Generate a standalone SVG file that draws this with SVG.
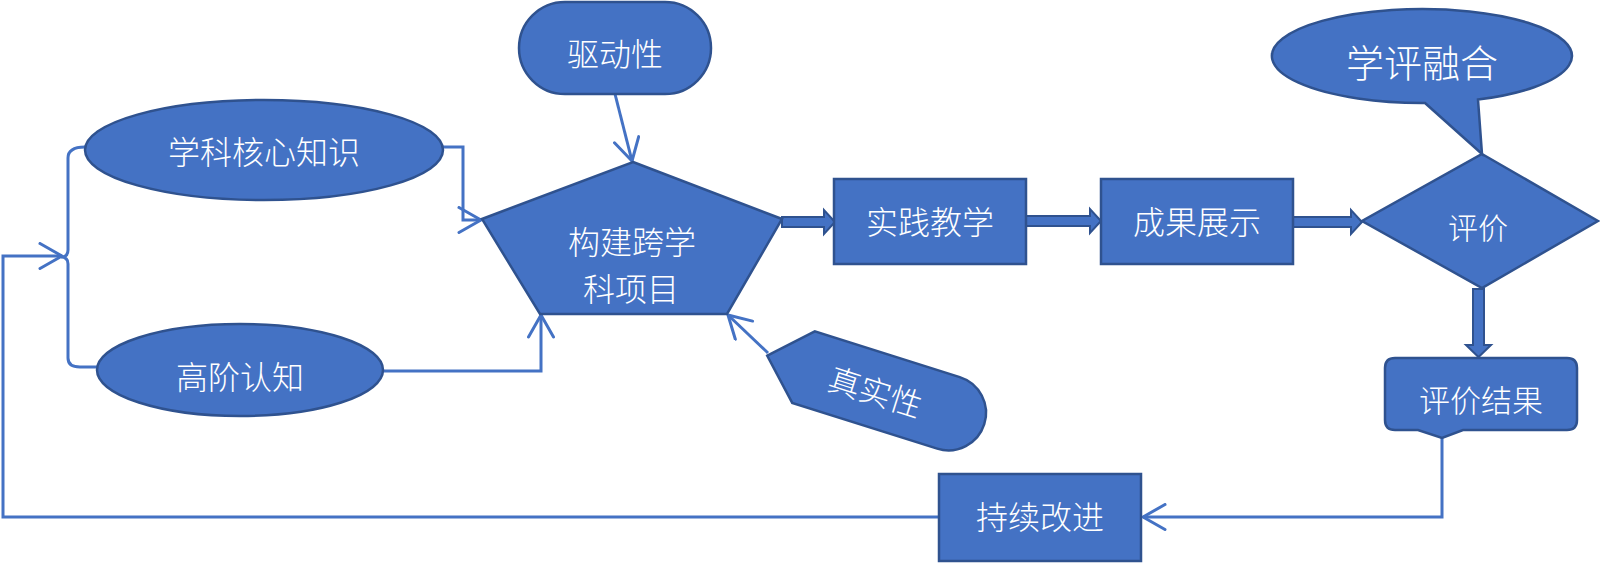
<svg xmlns="http://www.w3.org/2000/svg" width="1600" height="564" viewBox="0 0 1600 564">
  <defs>
    <style>
      .node { fill: #4472C4; stroke: #2F528F; stroke-width: 2.5; }
      .blk { fill: #4472C4; stroke: #2F528F; stroke-width: 2; }
      .con { fill: none; stroke: #4472C4; stroke-width: 3; }
      .lbl { fill: #FFFFFF; font-family: "Noto Sans CJK SC", "Noto Sans", sans-serif; font-weight: 300; text-anchor: middle; dominant-baseline: central; }
    </style>
    <marker id="open" viewBox="0 0 26 28" refX="24" refY="14" markerWidth="26" markerHeight="28" markerUnits="userSpaceOnUse" orient="auto">
      <path d="M2,1.5 L24,14 L2,26.5" fill="none" stroke="#4472C4" stroke-width="3" stroke-linecap="round" stroke-linejoin="round"/>
    </marker>
  </defs>
  <rect width="1600" height="564" fill="#FFFFFF"/>

  <g id="connectors">
    <path class="con" d="M85,147 Q68,147 68,158 V250 Q68,257 61,257 Q68,257 68,264 V358 Q68,367 80,367 H98"/>
    <path class="con" d="M939,517 H3 V256 H62" marker-end="url(#open)"/>
    <path class="con" d="M443,147 H463 V220 H481" marker-end="url(#open)"/>
    <path class="con" d="M383,371 H541 V315" marker-end="url(#open)"/>
    <path class="con" d="M615,94 L632,161" marker-end="url(#open)"/>
    <path class="con" d="M768,353 L728,315" marker-end="url(#open)"/>
    <path class="con" d="M1442,437 V517 H1143" marker-end="url(#open)"/>
    <polygon class="blk" points="782,217 824,217 824,210 835,222 824,234 824,227 782,227"/>
    <polygon class="blk" points="1026,216 1090,216 1090,209 1101,221 1090,233 1090,226 1026,226"/>
    <polygon class="blk" points="1293,217 1351,217 1351,210 1362,222 1351,234 1351,227 1293,227"/>
    <polygon class="blk" points="1473,289 1484,289 1484,345 1491,345 1478.5,357 1466,345 1473,345"/>
  </g>

  <g id="node-qudongxing">
    <rect class="node" x="519" y="2" width="192" height="92" rx="46" ry="46"/>
    <text class="lbl" x="615" y="52" font-size="32">驱动性</text>
  </g>

  <g id="node-xueke">
    <ellipse class="node" cx="264" cy="150" rx="179" ry="50"/>
    <text class="lbl" x="264" y="150" font-size="32">学科核心知识</text>
  </g>

  <g id="node-gaojie">
    <ellipse class="node" cx="240" cy="370" rx="143" ry="46"/>
    <text class="lbl" x="240" y="375" font-size="32">高阶认知</text>
  </g>

  <g id="node-goujian">
    <polygon class="node" points="633,162 782,219 727,314 540,314 482,219"/>
    <text class="lbl" x="632" y="240" font-size="32">构建跨学</text>
    <text class="lbl" x="631" y="287" font-size="32">科项目</text>
  </g>

  <g id="node-zhenshixing" transform="translate(876,390) rotate(17.5)">
    <path class="node" d="M-114,0 L-76,-37.5 H76 A37.5,37.5 0 0 1 76,37.5 H-76 Z"/>
    <text class="lbl" x="0" y="0" font-size="32">真实性</text>
  </g>

  <g id="node-shijian">
    <rect class="node" x="834" y="179" width="192" height="85"/>
    <text class="lbl" x="930" y="220" font-size="32">实践教学</text>
  </g>

  <g id="node-chengguo">
    <rect class="node" x="1101" y="179" width="192" height="85"/>
    <text class="lbl" x="1197" y="220" font-size="32">成果展示</text>
  </g>

  <g id="node-pingjia">
    <polygon class="node" points="1482,154 1598,221 1482,288 1362,221"/>
    <text class="lbl" x="1478" y="226" font-size="30">评价</text>
  </g>

  <g id="node-xueping">
    <path class="node" d="M1425,103 L1482,154 L1478,99.6 A150,47 0 1 0 1425,103 Z"/>
    <text class="lbl" x="1422" y="60" font-size="38">学评融合</text>
  </g>

  <g id="node-pingjiajieguo">
    <path class="node" d="M1395,358 H1567 Q1577,358 1577,368 V420 Q1577,430 1567,430 H1463 L1442,438 L1418,430 H1395 Q1385,430 1385,420 V368 Q1385,358 1395,358 Z"/>
    <text class="lbl" x="1481" y="398" font-size="31">评价结果</text>
  </g>

  <g id="node-chixu">
    <rect class="node" x="939" y="474" width="202" height="87"/>
    <text class="lbl" x="1040" y="515" font-size="32">持续改进</text>
  </g>
</svg>
